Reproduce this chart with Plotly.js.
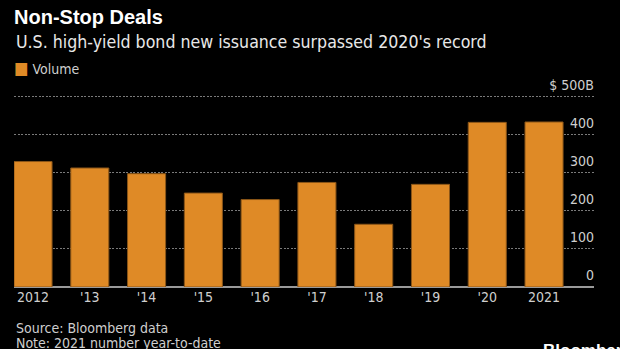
<!DOCTYPE html>
<html>
<head>
<meta charset="utf-8">
<script src="https://cdn.plot.ly/plotly-3.0.1.min.js"></script>
<style>html,body{margin:0;padding:0;background:#000;}#chart{width:620px;height:349px;}</style>
</head>
<body>
<div id="chart"></div>
<script>
// Data (US high-yield bond issuance, $B)
const years = ["2012", "'13", "'14", "'15", "'16", "'17", "'18", "'19", "'20", "2021"];
const volume = [330, 313, 298, 247, 230, 275, 165, 270, 433, 434];
const yTickVals = [0, 100, 200, 300, 400, 500];
const yTickText = ["0", "100", "200", "300", "400", "$ 500B"];

const FONT = "DejaVu Sans Condensed, DejaVu Sans, sans-serif";
const ORANGE = "#DF8A26";

const trace = {
  type: "bar",
  x: years,
  y: volume,
  name: "Volume",
  marker: { color: ORANGE, line: { color: "#8A5518", width: 1 } },
  hoverinfo: "x+y"
};

const layout = {
  width: 620,
  height: 349,
  paper_bgcolor: "#000",
  plot_bgcolor: "#000",
  margin: { l: 14, r: 26, t: 95, b: 62 },
  showlegend: false,
  bargap: 0.33,
  font: { family: FONT, color: "#cfcfcf", size: 14 },
  title: {
    text: "<b>Non-Stop Deals</b>",
    font: { family: "Liberation Sans, Arial, sans-serif", size: 20, color: "#ffffff" },
    xref: "container", yref: "container",
    x: 14 / 620, xanchor: "left",
    y: 1 - 17 / 349, yanchor: "middle"
  },
  xaxis: {
    type: "category",
    range: [-0.335, 9.88],
    showgrid: false,
    showline: false,
    zeroline: false,
    ticks: "",
    tickfont: { family: FONT, size: 14, color: "#cfcfcf" },
    fixedrange: true
  },
  yaxis: {
    side: "left",
    anchor: "free",
    position: 1,
    range: [0, 505],
    tickvals: yTickVals,
    ticktext: yTickText,
    ticklabelshift: -12,
    ticklabelstandoff: 0,
    ticks: "",
    showgrid: true,
    gridcolor: "#7a7a7a",
    griddash: "2px,1.5px",
    gridwidth: 1,
    zeroline: true,
    zerolinecolor: "#9a9a9a",
    zerolinewidth: 1.5,
    showline: false,
    tickfont: { family: FONT, size: 14, color: "#cfcfcf" },
    fixedrange: true
  },
  annotations: [
    {
      text: "U.S. high-yield bond new issuance surpassed 2020's record",
      xref: "paper", yref: "paper", x: 0, y: (287 - 42) / 192,
      xanchor: "left", yanchor: "middle", showarrow: false,
      font: { family: FONT, size: 17.6, color: "#e8e8e8" }
    },
    {
      text: "<span style='color:" + ORANGE + ";font-size:17px'>■</span> Volume",
      xref: "paper", yref: "paper", x: -0.004, y: (287 - 68) / 192,
      xanchor: "left", yanchor: "middle", showarrow: false,
      font: { family: FONT, size: 14, color: "#cfcfcf" }
    },
    {
      text: "Source: Bloomberg data",
      xref: "paper", yref: "paper", x: 0, y: (287 - 328) / 192,
      xanchor: "left", yanchor: "middle", showarrow: false,
      font: { family: FONT, size: 14, color: "#cfcfcf" }
    },
    {
      text: "Note: 2021 number year-to-date",
      xref: "paper", yref: "paper", x: 0, y: (287 - 343) / 192,
      xanchor: "left", yanchor: "middle", showarrow: false,
      font: { family: FONT, size: 14, color: "#cfcfcf" }
    },
    {
      text: "<b>Bloomberg</b>",
      xref: "paper", yref: "paper", x: (541 - 14) / 580, y: (287 - 350) / 192,
      xanchor: "left", yanchor: "middle", showarrow: false,
      font: { family: "Liberation Sans, Arial, sans-serif", size: 17, color: "#ffffff" }
    }
  ]
};

Plotly.newPlot("chart", [trace], layout, { displayModeBar: false, staticPlot: true });
</script>
</body>
</html>
